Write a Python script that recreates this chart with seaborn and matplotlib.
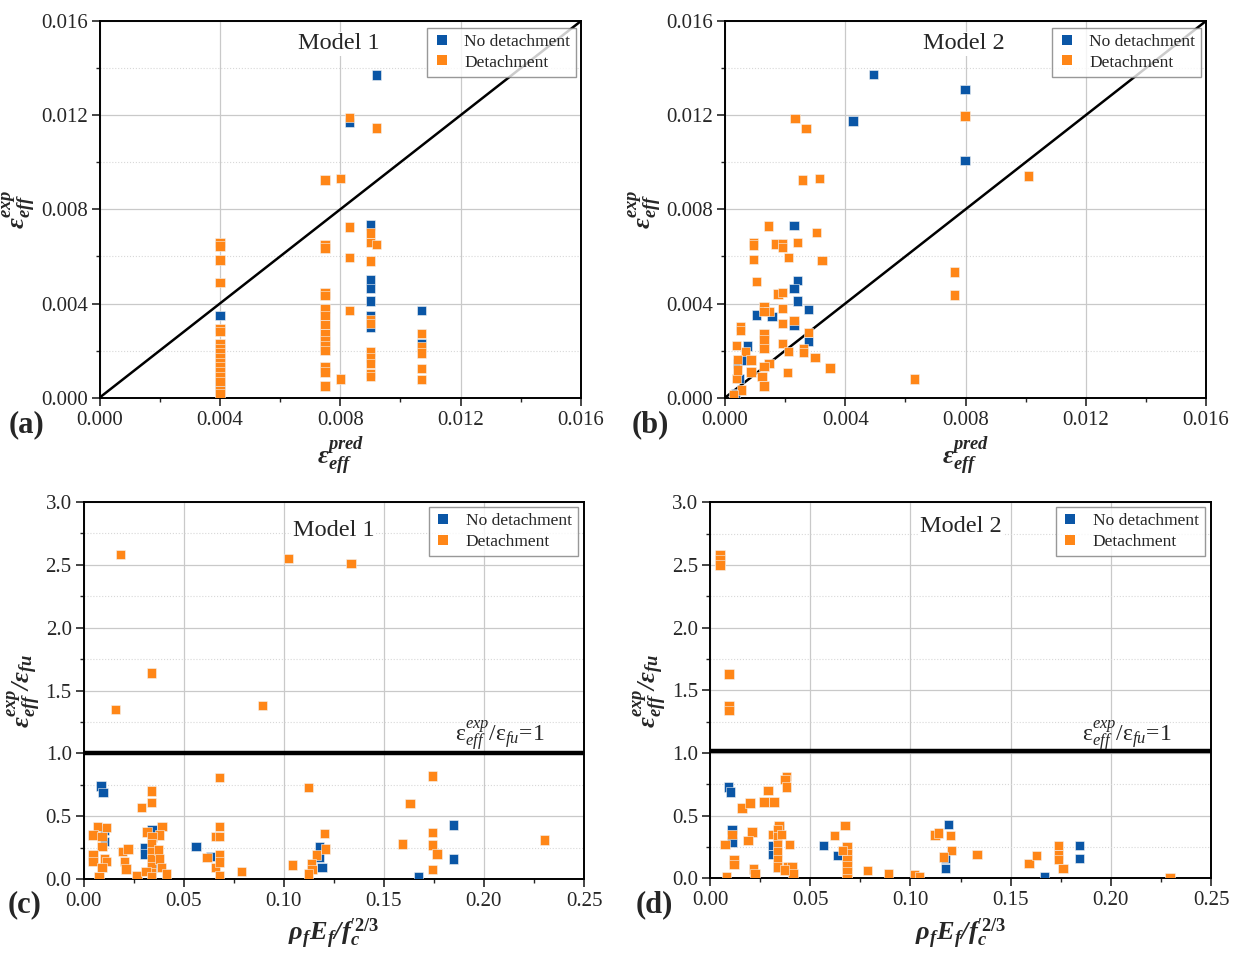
import numpy as np
import pandas as pd
import matplotlib
matplotlib.use("Agg")
import matplotlib.pyplot as plt
from matplotlib.lines import Line2D
from matplotlib.ticker import MultipleLocator, FormatStrFormatter
import seaborn as sns

# ---------------- data ----------------
# Panel (a): Model 1, predicted vs experimental effective strain
a_nodet_x = [0.0040, 0.0040, 0.0083, 0.0092, 0.0090, 0.0090, 0.0090, 0.0090, 0.0090, 0.0090, 0.0107, 0.0107]
a_nodet_y = [0.0035, 0.00055, 0.0117, 0.0137, 0.00734, 0.0050, 0.00465, 0.0041, 0.0035, 0.0030, 0.0037, 0.0023]
a_det_x = [0.0040] * 17 + [0.0075] * 15 + [0.0080] * 2 + [0.0083] * 4 + [0.0090] * 10 + [0.0092] * 2 + [0.0107] * 5
a_det_y = [0.0066, 0.00645, 0.00585, 0.0049, 0.00295, 0.0028, 0.0023, 0.0021, 0.0019, 0.0017, 0.0015,
           0.0013, 0.0011, 0.0009, 0.0007, 0.0003, 0.00015,
           0.00925, 0.0065, 0.00635, 0.00445, 0.00435, 0.0038, 0.0035, 0.0031, 0.0027, 0.0024, 0.0022,
           0.0020, 0.0013, 0.0011, 0.0005,
           0.0093, 0.0008,
           0.0119, 0.00725, 0.00595, 0.0037,
           0.0070, 0.0066, 0.0058, 0.0033, 0.00315, 0.00195, 0.0017, 0.00145, 0.00103, 0.0009,
           0.01145, 0.0065,
           0.00273, 0.00215, 0.0019, 0.00125, 0.00078]

# Panel (b): Model 2
b_nodet_x = [0.00426, 0.00494, 0.00799, 0.00799, 0.00229, 0.00241, 0.00229, 0.00241, 0.00278, 0.00104,
             0.00156, 0.00229, 0.00278, 0.00074, 0.00042, 0.00065, 0.00048, 0.00035]
b_nodet_y = [0.01176, 0.01372, 0.01310, 0.01008, 0.00732, 0.00497, 0.00463, 0.00411, 0.00375, 0.00351,
             0.00346, 0.00309, 0.00238, 0.00220, 0.00146, 0.00160, 0.00082, 0.00018]
b_det_x = [0.00233, 0.00269, 0.00258, 0.00314, 0.00799, 0.01010, 0.00763, 0.00763, 0.00630, 0.00145,
           0.00304, 0.00094, 0.00094, 0.00169, 0.00192, 0.00192, 0.00241, 0.00094, 0.00212, 0.00322,
           0.00104, 0.00176, 0.00192, 0.00130, 0.00146, 0.00130, 0.00192, 0.00192, 0.00229, 0.00051,
           0.00051, 0.00130, 0.00130, 0.00130, 0.00278, 0.00192, 0.00039, 0.00068, 0.00262, 0.00262,
           0.00212, 0.00300, 0.00349, 0.00086, 0.00042, 0.00146, 0.00087, 0.00207, 0.00130, 0.00123,
           0.00039, 0.00130, 0.00055, 0.00029, 0.00042]
b_det_y = [0.01187, 0.01144, 0.00925, 0.00932, 0.01197, 0.00942, 0.00534, 0.00436, 0.00079, 0.00729,
           0.00701, 0.00659, 0.00649, 0.00652, 0.00652, 0.00637, 0.00659, 0.00588, 0.00595, 0.00582,
           0.00493, 0.00441, 0.00448, 0.00387, 0.00365, 0.00365, 0.00380, 0.00316, 0.00327, 0.00302,
           0.00285, 0.00273, 0.00245, 0.00210, 0.00278, 0.00231, 0.00221, 0.00195, 0.00210, 0.00191,
           0.00195, 0.00170, 0.00127, 0.00160, 0.00163, 0.00146, 0.00110, 0.00108, 0.00132, 0.00089,
           0.00082, 0.00050, 0.00033, 0.00011, 0.00118]

# Panel (c): Model 1, normalised strain vs stiffness parameter
c_nodet_x = [0.0088, 0.0098, 0.0105, 0.0105, 0.0343, 0.0306, 0.0306, 0.0343, 0.0562, 0.0634,
             0.1178, 0.1178, 0.1191, 0.1848, 0.1848, 0.1673]
c_nodet_y = [0.74, 0.69, 0.39, 0.30, 0.39, 0.25, 0.20, 0.09, 0.26, 0.18, 0.26, 0.17, 0.09, 0.43, 0.16, 0.015]
c_det_x = [0.0185, 0.1023, 0.1337, 0.0339, 0.0160, 0.0893,
           0.0340, 0.0340, 0.0290, 0.0680, 0.1124, 0.1743, 0.1630,
           0.0071, 0.0115, 0.0048, 0.0093, 0.0093, 0.0048, 0.0048, 0.0105, 0.0115, 0.0093, 0.0077,
           0.0196, 0.0223, 0.0206, 0.0213, 0.0268,
           0.0318, 0.0393, 0.0380, 0.0343, 0.0340, 0.0340, 0.0340, 0.0340, 0.0340, 0.0376, 0.0380,
           0.0390, 0.0414, 0.0313, 0.0340,
           0.0617, 0.0660, 0.0680, 0.0680, 0.0680, 0.0660, 0.0680, 0.0680, 0.0790,
           0.1203, 0.1208, 0.1163, 0.1043, 0.1138, 0.1141, 0.1124,
           0.1743, 0.1593, 0.1743, 0.1765, 0.1743, 0.2302]
c_det_y = [2.58, 2.55, 2.51, 1.64, 1.35, 1.38,
           0.70, 0.61, 0.57, 0.81, 0.73, 0.82, 0.60,
           0.42, 0.41, 0.35, 0.34, 0.26, 0.19, 0.14, 0.16, 0.14, 0.09, 0.02,
           0.22, 0.24, 0.14, 0.08, 0.03,
           0.375, 0.42, 0.35, 0.335, 0.28, 0.22, 0.16, 0.10, 0.05, 0.23, 0.16,
           0.09, 0.04, 0.06, 0.015,
           0.17, 0.34, 0.42, 0.34, 0.19, 0.09, 0.135, 0.03, 0.06,
           0.36, 0.24, 0.19, 0.11, 0.12, 0.075, 0.04,
           0.37, 0.28, 0.27, 0.20, 0.075, 0.31]

# Panel (d): Model 2
d_nodet_x = [0.0093, 0.0101, 0.0109, 0.0109, 0.0312, 0.0312, 0.0336, 0.0345, 0.0565, 0.0635,
             0.1190, 0.1176, 0.1176, 0.1844, 0.1844, 0.1670]
d_nodet_y = [0.73, 0.69, 0.39, 0.29, 0.26, 0.19, 0.085, 0.40, 0.26, 0.18, 0.43, 0.16, 0.08, 0.26, 0.16, 0.013]
d_det_x = [0.0050, 0.0050, 0.0050, 0.0094, 0.0094, 0.0094,
           0.0109, 0.0075, 0.0119, 0.0119, 0.0081,
           0.0159, 0.0200, 0.0270, 0.0320, 0.0290, 0.0381, 0.0375, 0.0381,
           0.0209, 0.0189, 0.0217, 0.0225,
           0.0344, 0.0312, 0.0336, 0.0336, 0.0336, 0.0336, 0.0336, 0.0336, 0.0358, 0.0396, 0.0386,
           0.0410, 0.0414, 0.0371,
           0.0621, 0.0674, 0.0684, 0.0684, 0.0684, 0.0684, 0.0684, 0.0684, 0.0660, 0.0787, 0.0891,
           0.1020, 0.1044, 0.1123, 0.1140, 0.1201, 0.1204, 0.1164, 0.1333,
           0.1592, 0.1629, 0.1740, 0.1740, 0.1740, 0.1761, 0.2296]
d_det_y = [2.58, 2.54, 2.50, 1.63, 1.38, 1.34,
           0.35, 0.27, 0.15, 0.11, 0.01,
           0.56, 0.60, 0.61, 0.61, 0.70, 0.81, 0.79, 0.73,
           0.37, 0.30, 0.075, 0.04,
           0.42, 0.35, 0.39, 0.33, 0.27, 0.21, 0.15, 0.09, 0.35, 0.27, 0.09,
           0.09, 0.04, 0.066,
           0.34, 0.42, 0.25, 0.20, 0.15, 0.10, 0.05, 0.00, 0.22, 0.06, 0.035,
           0.03, 0.016, 0.345, 0.36, 0.34, 0.22, 0.17, 0.19,
           0.12, 0.18, 0.26, 0.19, 0.15, 0.08, 0.008]

labels_status = ["No detachment", "Detachment"]
model_titles = ["Model 1", "Model 2", "Model 1", "Model 2"]
panel_letters = ["(a)", "(b)", "(c)", "(d)"]
ratio_limit = [1.0, 1.015]

# ---------------- style ----------------
sns.set_style("ticks")
plt.rcParams["font.family"] = ["Liberation Serif", "DejaVu Serif"]
plt.rcParams["mathtext.fontset"] = "custom"
plt.rcParams["mathtext.rm"] = "Liberation Serif"
plt.rcParams["mathtext.it"] = "Liberation Serif:italic"
plt.rcParams["mathtext.bf"] = "Liberation Serif:bold"
try:
    plt.rcParams["mathtext.bfit"] = "Liberation Serif:bold:italic"
except KeyError:
    pass

BLUE = "#0a56a6"
ORANGE = "#ff8617"
palette = {"No detachment": BLUE, "Detachment": ORANGE}

W, H = 1235, 958
fig = plt.figure(figsize=(W / 100, H / 100), dpi=100)

def frac(l, r, t, b):
    return [l / W, 1 - b / H, (r - l) / W, (b - t) / H]

ax_a = fig.add_axes(frac(99.5, 581, 21, 397.7))
ax_b = fig.add_axes(frac(725, 1206, 21, 397.7))
ax_c = fig.add_axes(frac(83.5, 584, 502, 879))
ax_d = fig.add_axes(frac(710, 1211, 502.3, 878.3))
axes = [ax_a, ax_b, ax_c, ax_d]

def make_df(nx, ny, dx, dy):
    d1 = pd.DataFrame({"x": nx, "y": ny, "status": labels_status[0]})
    d2 = pd.DataFrame({"x": dx, "y": dy, "status": labels_status[1]})
    return pd.concat([d1, d2], ignore_index=True)

dfs = [make_df(a_nodet_x, a_nodet_y, a_det_x, a_det_y),
       make_df(b_nodet_x, b_nodet_y, b_det_x, b_det_y),
       make_df(c_nodet_x, c_nodet_y, c_det_x, c_det_y),
       make_df(d_nodet_x, d_nodet_y, d_det_x, d_det_y)]

lab_strain_exp = r"$\mathbfit{\varepsilon}_{\mathbfit{eff}}^{\mathbfit{exp}}$"
lab_strain_pred = r"$\mathbfit{\varepsilon}_{\mathbfit{eff}}^{\mathbfit{pred}}$"
lab_ratio = r"$\mathbfit{\varepsilon}_{\mathbfit{eff}}^{\mathbfit{exp}}\mathbfit{/\varepsilon}_{\mathbfit{fu}}$"
lab_stiff = r"$\mathbfit{\rho}_{\mathbfit{f}}\mathbfit{E}_{\mathbfit{f}}\mathbfit{/f}_{\mathbfit{c}}^{\prime\mathbf{2/3}}$"
lab_limit = r"$\mathrm{\varepsilon}_{eff}^{exp}/\mathrm{\varepsilon}_{fu}$=1"

for i, ax in enumerate(axes):
    sns.scatterplot(data=dfs[i], x="x", y="y", hue="status", palette=palette,
                    hue_order=labels_status, marker="s", s=46, linewidth=0.4,
                    edgecolor="#f4f4f4", legend=False, ax=ax, zorder=3)
    top = i < 2
    if top:
        ax.set_xlim(0, 0.016)
        ax.set_ylim(0, 0.016)
        ax.xaxis.set_major_locator(MultipleLocator(0.004))
        ax.yaxis.set_major_locator(MultipleLocator(0.004))
        ax.xaxis.set_minor_locator(MultipleLocator(0.002))
        ax.yaxis.set_minor_locator(MultipleLocator(0.002))
        ax.xaxis.set_major_formatter(FormatStrFormatter("%.3f"))
        ax.yaxis.set_major_formatter(FormatStrFormatter("%.3f"))
        ax.plot([0, 0.016], [0, 0.016], color="black", lw=1.8, zorder=2)
        ax.set_xlabel(lab_strain_pred, fontsize=19, labelpad=4)
        ax.set_ylabel(lab_strain_exp, fontsize=19, labelpad=2)
        ax.text(0.497, 0.94, model_titles[i], transform=ax.transAxes, ha="center",
                va="center", fontsize=17.5, zorder=4,
                bbox=dict(facecolor="white", edgecolor="none", pad=1))
        leg_anchor = (0.99, 0.982)
    else:
        ax.set_xlim(0, 0.25)
        ax.set_ylim(0, 3.0)
        ax.xaxis.set_major_locator(MultipleLocator(0.05))
        ax.yaxis.set_major_locator(MultipleLocator(0.5))
        ax.xaxis.set_minor_locator(MultipleLocator(0.025))
        ax.yaxis.set_minor_locator(MultipleLocator(0.25))
        ax.xaxis.set_major_formatter(FormatStrFormatter("%.2f"))
        ax.yaxis.set_major_formatter(FormatStrFormatter("%.1f"))
        ax.axhline(ratio_limit[i - 2], color="black", lw=3.2, zorder=2)
        ax.text(0.742, 1.14, lab_limit, transform=ax.get_yaxis_transform(),
                ha="left", va="center", fontsize=17)
        ax.set_xlabel(lab_stiff, fontsize=19, labelpad=4)
        ax.set_ylabel(lab_ratio, fontsize=19, labelpad=2)
        ax.text(0.50, 0.925 if i == 2 else 0.935, model_titles[i], transform=ax.transAxes,
                ha="center", va="center", fontsize=17.5, zorder=4,
                bbox=dict(facecolor="white", edgecolor="none", pad=1))
        leg_anchor = (0.988, 0.987)

    ax.grid(which="major", color="#c9c9c9", lw=0.9, linestyle="-", zorder=0)
    ax.yaxis.grid(which="minor", color="#d8d8d8", lw=0.8, linestyle=":", zorder=0)
    ax.set_axisbelow(True)
    for sp in ax.spines.values():
        sp.set_visible(True)
        sp.set_color("black")
        sp.set_linewidth(1.4)
    ax.tick_params(which="major", direction="out", length=5.5, width=1.2,
                   labelsize=15, pad=4, top=False, right=False)
    ax.tick_params(which="minor", direction="out", length=3, width=1.0,
                   top=False, right=False)
    ax.tick_params(axis="y", which="major", pad=3)

    handles = [Line2D([], [], marker="s", linestyle="none", color=palette[s],
                      markersize=6.5, markeredgewidth=0) for s in labels_status]
    leg = ax.legend(handles, labels_status, loc="upper right", bbox_to_anchor=leg_anchor,
                    fontsize=12.5, frameon=True, fancybox=False, borderaxespad=0,
                    handlelength=1.0, handletextpad=0.8, borderpad=0.35,
                    labelspacing=0.25)
    leg.get_frame().set_edgecolor("#7f7f7f")
    leg.get_frame().set_linewidth(1.0)
    leg.set_zorder(6)

letter_pos = [(27, 425), (650, 425), (25, 905), (654, 905)]
for (px, py), lt in zip(letter_pos, panel_letters):
    fig.text(px / W, 1 - py / H, lt, ha="center", va="center", fontsize=22,
             fontweight="bold")

fig.savefig("out.png", dpi=100)
